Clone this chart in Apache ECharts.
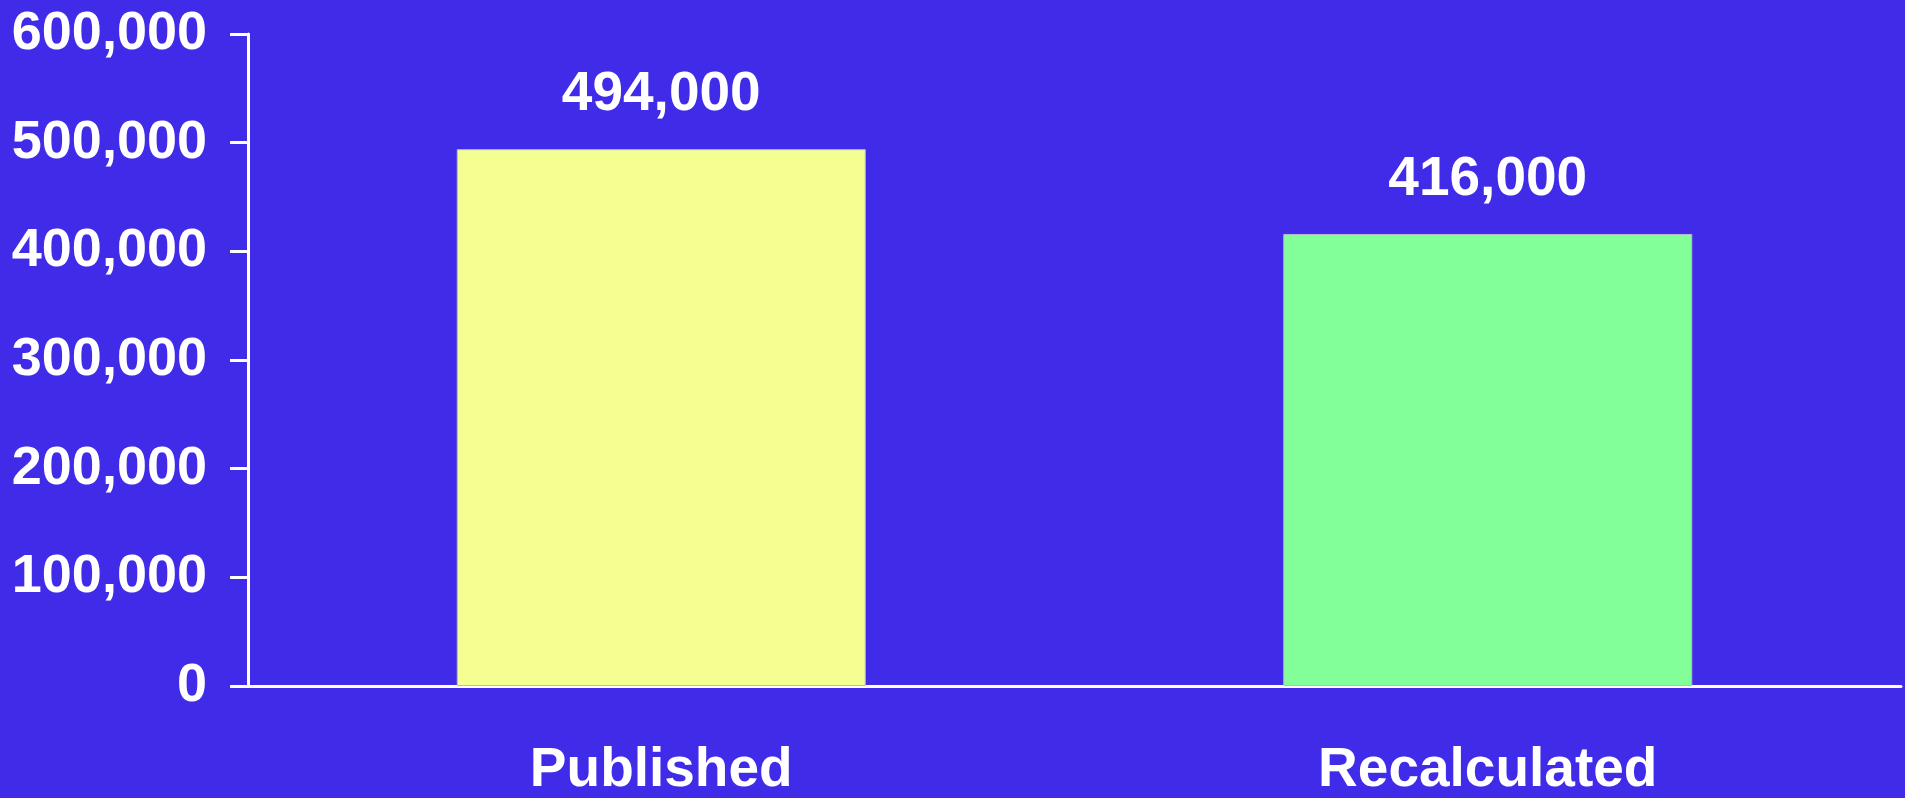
<!DOCTYPE html>
<html>
<head>
<meta charset="utf-8">
<script src="https://cdn.jsdelivr.net/npm/echarts@6/dist/echarts.min.js"></script>
<style>
html,body{margin:0;padding:0;background:#402BE8;}
#chart{width:1905px;height:798px;}
</style>
</head>
<body>
<div id="chart"></div>
<script>
const categories = ['Published', 'Recalculated'];
const values = [494000, 416000];
const barColors = ['#F5FF91', '#82FF99'];
const yTicks = [0, 100000, 200000, 300000, 400000, 500000, 600000];

const fmt = v => String(v).replace(/\B(?=(\d{3})+(?!\d))/g, ',');
const FONT = '"Liberation Sans", Arial, sans-serif';

const chart = echarts.init(document.getElementById('chart'));
chart.setOption({
  backgroundColor: '#402BE8',
  animation: false,
  grid: { left: 248, right: 4, top: 34, bottom: 109, containLabel: false },
  xAxis: {
    type: 'category',
    data: categories,
    axisLine: { lineStyle: { color: '#ffffff', width: 3 } },
    axisTick: { show: false },
    axisLabel: { color: '#ffffff', fontSize: 55, fontWeight: 'bold', fontFamily: FONT, margin: 57 }
  },
  yAxis: {
    type: 'value',
    min: yTicks[0],
    max: yTicks[yTicks.length - 1],
    interval: yTicks[1] - yTicks[0],
    splitLine: { show: false },
    axisLine: { show: true, lineStyle: { color: '#ffffff', width: 3 } },
    axisTick: { show: true, inside: false, length: 18, lineStyle: { color: '#ffffff', width: 3 } },
    axisLabel: { color: '#ffffff', fontSize: 54, fontWeight: 'bold', fontFamily: FONT, margin: 41, formatter: v => fmt(v) }
  },
  series: [{
    type: 'bar',
    barWidth: 409,
    data: values.map((v, i) => ({ value: v, itemStyle: { color: barColors[i], borderColor: '#b8b8c8', borderWidth: 1 } })),
    label: {
      show: true, position: 'top', distance: 27,
      color: '#ffffff', fontSize: 55, fontWeight: 'bold', fontFamily: FONT,
      formatter: p => fmt(p.value)
    }
  }]
});
</script>
</body>
</html>
